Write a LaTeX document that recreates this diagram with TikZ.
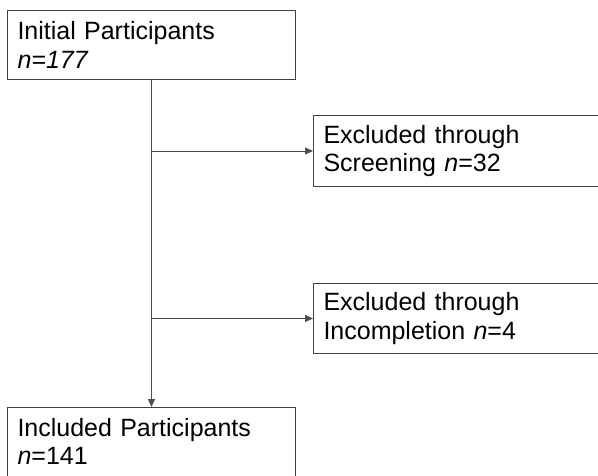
\documentclass[tikz,border=0pt]{standalone}
\usepackage{fontspec}
\setmainfont{Liberation Sans}
\usetikzlibrary{arrows.meta}
\begin{document}
\begin{tikzpicture}[x=1pt,y=1pt,
  boxst/.style={draw=black!75, line width=1pt, anchor=north west, align=left,
    inner xsep=10pt, inner ysep=0pt,
    font=\fontsize{25pt}{28.5pt}\selectfont},
  conn/.style={draw=black!70, line width=0.9pt},
  arr/.style={conn, -{Triangle[length=8pt,width=7pt]}}]
\useasboundingbox (0,0) rectangle (598,-475);
\clip (0,0) rectangle (598,-475);
\fill[white] (0,0) rectangle (598,-475);
\node[boxst, minimum width=288pt, minimum height=69pt, text width=268pt] (init) at (7,-10)
  {Initial Participants\\\textit{n=177}};
\node[boxst, minimum width=300pt, minimum height=71pt, text width=280pt] (scr) at (313,-115)
  {Excluded through\\Screening \textit{n}=32};
\node[boxst, minimum width=300pt, minimum height=70pt, text width=280pt] (inc) at (313,-283)
  {Excluded through\\Incompletion \textit{n}=4};
\node[boxst, minimum width=288pt, minimum height=78pt, text width=268pt] (incl) at (7,-407)
  {Included Participants\\\textit{n}=141\rule[-10pt]{0pt}{10pt}};
\draw[arr] (init.south) -- (incl.north);
\draw[arr] (init.south |- scr.west) -- (scr.west);
\draw[arr] (init.south |- inc.west) -- (inc.west);
\end{tikzpicture}
\end{document}
